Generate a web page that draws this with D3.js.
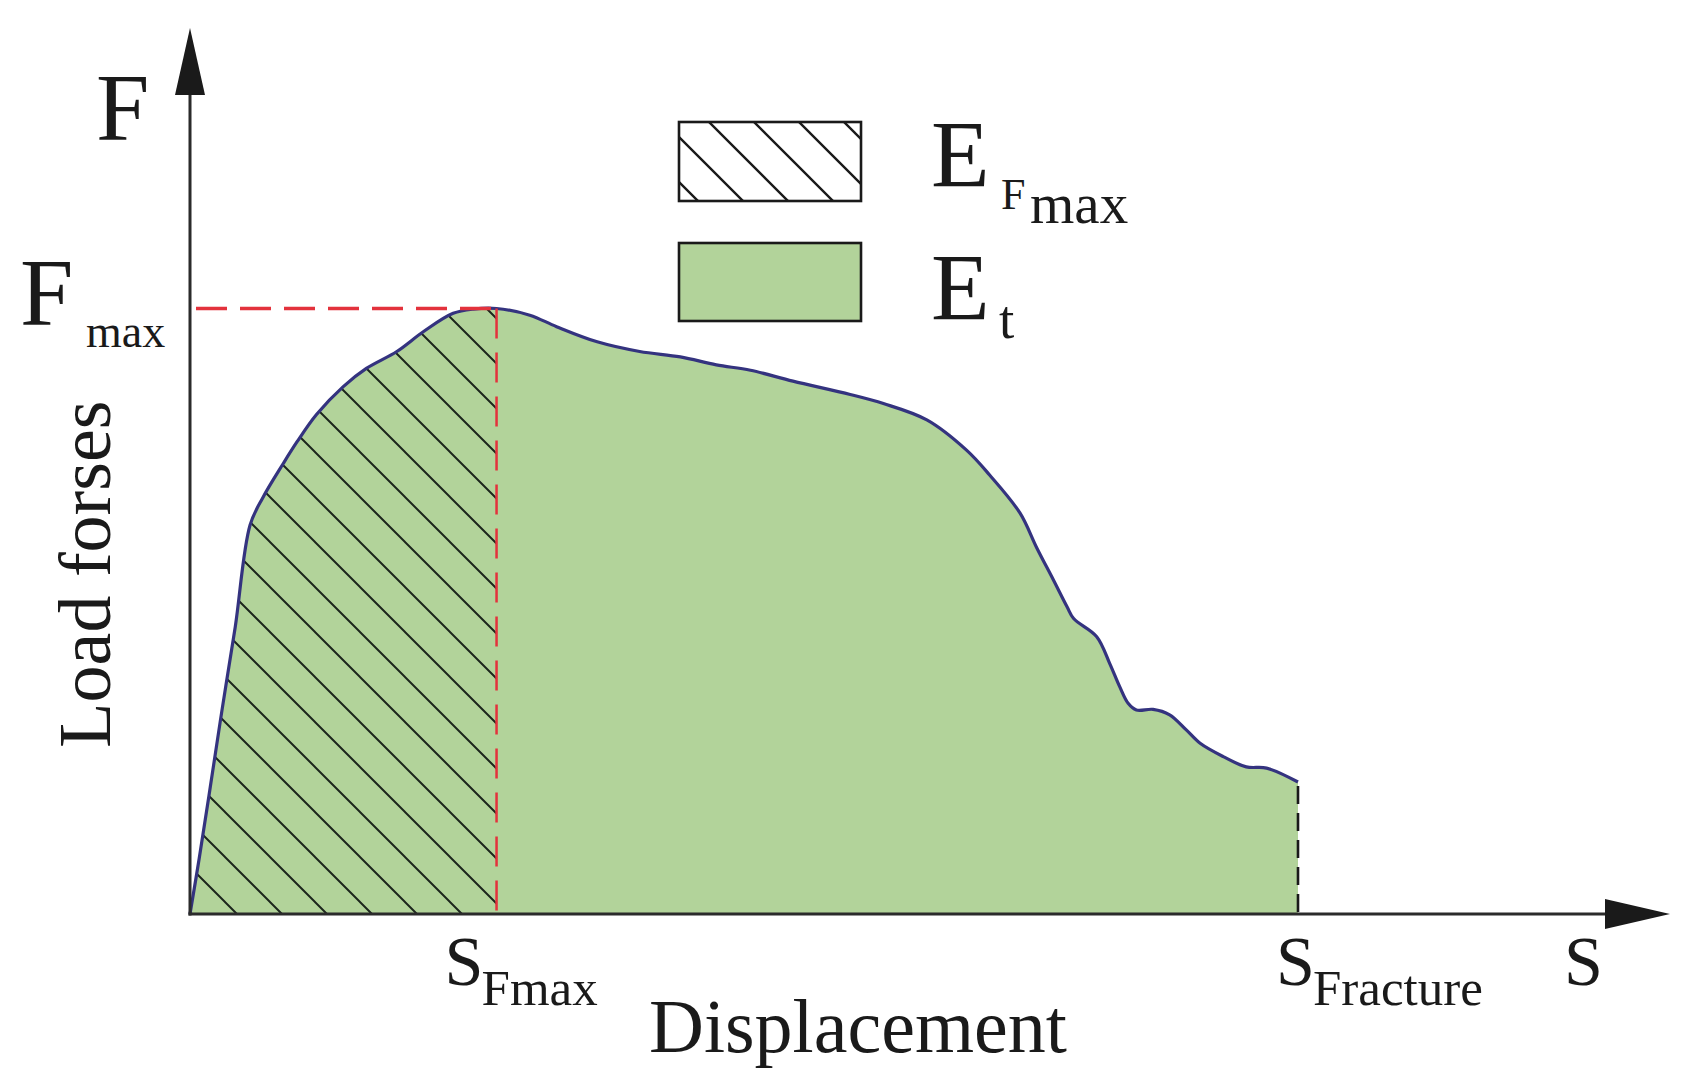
<!DOCTYPE html>
<html>
<head>
<meta charset="utf-8">
<script src="https://cdn.jsdelivr.net/npm/d3@7"></script>
<style>
  html, body { margin: 0; padding: 0; background: #fff; }
  svg { display: block; }
  text { font-family: "Liberation Serif", "DejaVu Serif", serif; fill: #1a1a1a; }
</style>
</head>
<body>
<svg id="chart" width="1683" height="1089"></svg>
<script>
// ---- data (displacement, load force) ----
const displacement = [0, 0.10, 0.22, 0.35, 0.49, 0.65, 0.79, 1.01,
  1.16, 1.37, 1.66, 1.91, 2.24, 2.53, 2.85, 3.07, 3.32, 3.68,
  3.97, 4.41, 4.87, 5.31, 5.70, 6.07, 6.53, 7.15, 7.51, 7.98,
  8.41, 8.66, 8.99, 9.17, 9.35, 9.50, 9.57, 9.82, 9.96, 10.07,
  10.16, 10.25, 10.43, 10.61, 10.79, 10.94, 11.19, 11.44, 11.66, 12.00];
const force = [0, 0.92, 2.10, 3.40, 4.74, 6.42, 6.88, 7.44,
  7.80, 8.25, 8.71, 9.01, 9.29, 9.62, 9.92, 9.99, 10.00, 9.89,
  9.70, 9.45, 9.29, 9.20, 9.07, 8.98, 8.80, 8.58, 8.43, 8.16,
  7.66, 7.25, 6.62, 6.05, 5.52, 5.07, 4.88, 4.58, 4.14, 3.75,
  3.48, 3.37, 3.38, 3.29, 3.04, 2.82, 2.60, 2.43, 2.41, 2.18];
const SFmax = 3.32;
const SFracture = 12.0;
const Fmax = 10.0;

const data = displacement.map((d, i) => ({ s: d, f: force[i] }));

const svg = d3.select("#chart");
const x = d3.scaleLinear().domain([0, SFracture]).range([190, 1298]);
const y = d3.scaleLinear().domain([0, Fmax]).range([914, 308.5]);

const green = "#b2d39a";
const curveColor = "#34337f";
const red = "#e3323c";
const axisColor = "#2b2b2b";

// hatch patterns
const defs = svg.append("defs");
const pat = defs.append("pattern")
  .attr("id", "hatch").attr("patternUnits", "userSpaceOnUse")
  .attr("width", 45).attr("height", 45)
  .attr("patternTransform", "translate(0,2)");
pat.append("path")
  .attr("d", "M-10,-10L55,55 M-10,35L10,55 M35,-10L55,10")
  .attr("stroke", "#1c261c").attr("stroke-width", 2).attr("fill", "none");
const pat2 = defs.append("pattern")
  .attr("id", "hatchLegend").attr("patternUnits", "userSpaceOnUse")
  .attr("width", 45).attr("height", 45)
  .attr("patternTransform", "translate(0,-2)");
pat2.append("path")
  .attr("d", "M-10,-10L55,55 M-10,35L10,55 M35,-10L55,10")
  .attr("stroke", "#1a1a1a").attr("stroke-width", 2.4).attr("fill", "none");

const curve = d3.curveCatmullRom.alpha(0.5);
const area = d3.area().x(d => x(d.s)).y0(y(0)).y1(d => y(d.f)).curve(curve);
const line = d3.line().x(d => x(d.s)).y(d => y(d.f)).curve(curve);

// E_t area
svg.append("path").datum(data).attr("d", area).attr("fill", green);
// E_Fmax hatched area
const hatchData = data.filter(d => d.s <= SFmax);
svg.append("path").datum(hatchData).attr("d", area).attr("fill", "url(#hatch)");

// curve
svg.append("path").datum(data).attr("d", line)
  .attr("fill", "none").attr("stroke", curveColor).attr("stroke-width", 3.2)
  .attr("stroke-linejoin", "round");

// red dashed guides to Fmax
svg.append("line")
  .attr("x1", x(0) + 6).attr("x2", x(SFmax))
  .attr("y1", y(Fmax)).attr("y2", y(Fmax))
  .attr("stroke", red).attr("stroke-width", 3.5).attr("stroke-dasharray", "31,13");
svg.append("line")
  .attr("x1", x(SFmax)).attr("x2", x(SFmax))
  .attr("y1", y(Fmax)).attr("y2", y(0))
  .attr("stroke", red).attr("stroke-width", 2.5).attr("stroke-dasharray", "30,14");

// fracture dashed line
const last = data[data.length - 1];
svg.append("line")
  .attr("x1", x(SFracture)).attr("x2", x(SFracture))
  .attr("y1", y(last.f) + 4).attr("y2", y(0))
  .attr("stroke", "#1a1a1a").attr("stroke-width", 2.6).attr("stroke-dasharray", "18,9");

// axes with arrows
svg.append("line").attr("x1", x(0)).attr("x2", x(0)).attr("y1", y(0) + 1.5).attr("y2", 92)
  .attr("stroke", axisColor).attr("stroke-width", 3);
svg.append("path").attr("d", d3.line()([[x(0), 28], [x(0) - 15, 95], [x(0) + 15, 95]]) + "Z")
  .attr("fill", "#1a1a1a");
svg.append("line").attr("x1", x(0) - 1.5).attr("x2", 1608).attr("y1", y(0)).attr("y2", y(0))
  .attr("stroke", axisColor).attr("stroke-width", 3);
svg.append("path").attr("d", d3.line()([[1670, y(0)], [1605, y(0) - 15], [1605, y(0) + 15]]) + "Z")
  .attr("fill", "#1a1a1a");

// axis labels
svg.append("text").attr("x", 96).attr("y", 140).attr("font-size", 96).text("F");
const fm = svg.append("text").attr("x", 20).attr("y", 325).attr("font-size", 96);
fm.append("tspan").text("F");
fm.append("tspan").attr("x", 86).attr("y", 347).attr("font-size", 46).text("max");

svg.append("text")
  .attr("transform", "translate(110,574) rotate(-90)")
  .attr("text-anchor", "middle").attr("font-size", 74).text("Load forses");

const sf = svg.append("text").attr("x", x(SFmax) - 52).attr("y", 985).attr("font-size", 70);
sf.append("tspan").text("S");
sf.append("tspan").attr("x", x(SFmax) - 15).attr("y", 1005).attr("font-size", 51).text("Fmax");

svg.append("text").attr("x", 649).attr("y", 1052).attr("font-size", 76).text("Displacement");

const sfr = svg.append("text").attr("x", x(SFracture) - 22).attr("y", 985).attr("font-size", 70);
sfr.append("tspan").text("S");
sfr.append("tspan").attr("x", x(SFracture) + 15).attr("y", 1005).attr("font-size", 51).text("Fracture");

svg.append("text").attr("x", 1564).attr("y", 985).attr("font-size", 70).text("S");

// legend
const lg = svg.append("g");
lg.append("rect").attr("x", 679).attr("y", 122).attr("width", 182).attr("height", 79)
  .attr("fill", "#fff").attr("stroke", "none");
lg.append("rect").attr("x", 679).attr("y", 122).attr("width", 182).attr("height", 79)
  .attr("fill", "url(#hatchLegend)").attr("stroke", "#1a1a1a").attr("stroke-width", 2.6);
lg.append("rect").attr("x", 679).attr("y", 243).attr("width", 182).attr("height", 78)
  .attr("fill", green).attr("stroke", "#1a1a1a").attr("stroke-width", 2.6);

const e1 = lg.append("text").attr("x", 931).attr("y", 187).attr("font-size", 96);
e1.append("tspan").text("E");
e1.append("tspan").attr("x", 1001).attr("y", 209).attr("font-size", 44).text("F");
e1.append("tspan").attr("x", 1030).attr("y", 223).attr("font-size", 57).text("max");

const e2 = lg.append("text").attr("x", 931).attr("y", 320).attr("font-size", 96);
e2.append("tspan").text("E");
e2.append("tspan").attr("x", 999).attr("y", 338).attr("font-size", 55).text("t");
</script>
</body>
</html>
